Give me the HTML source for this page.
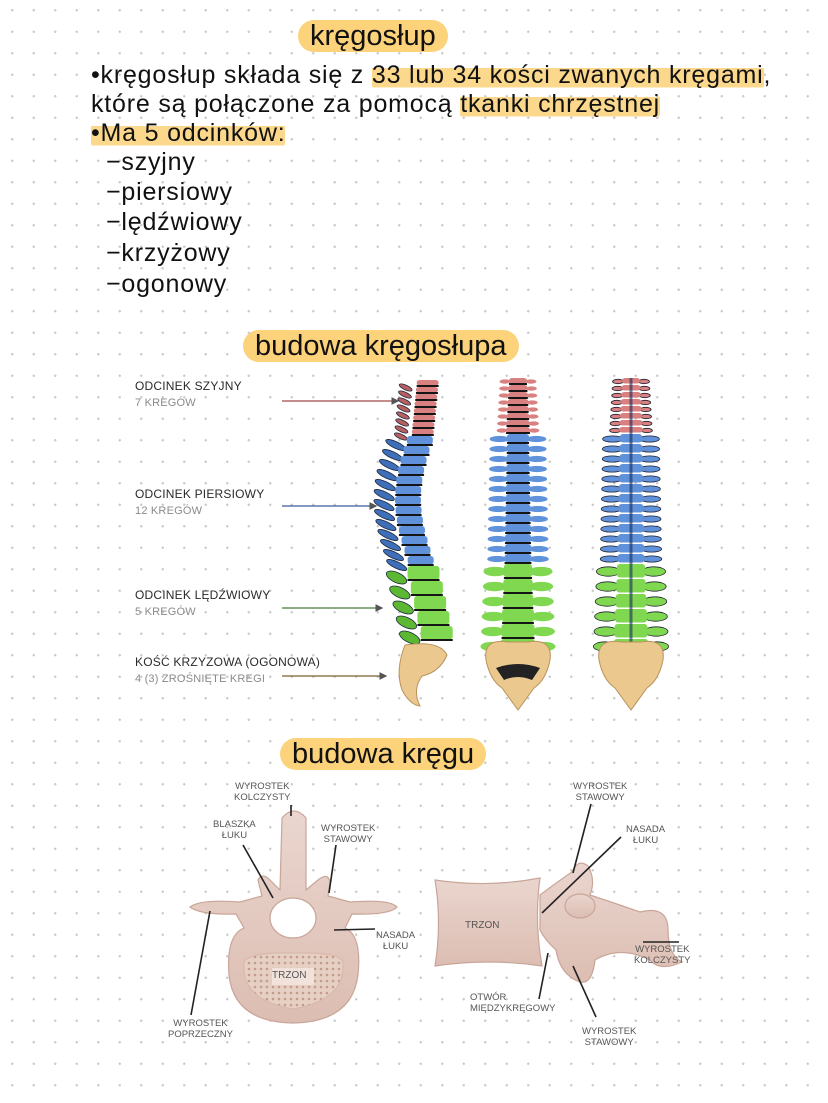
<!DOCTYPE html>
<html><head><meta charset="utf-8">
<style>
html,body{margin:0;padding:0}
body{width:828px;height:1103px;position:relative;overflow:hidden;background-color:#fff;
background-image:radial-gradient(circle,#c9c9c9 1px,transparent 1.4px);background-size:21.5px 21.5px;background-position:1.5px -0.5px;
font-family:"Liberation Sans","DejaVu Sans",sans-serif;color:#111}
.t{position:absolute;white-space:nowrap;font-size:25px;line-height:28px;letter-spacing:0.8px}
.h{background:linear-gradient(transparent 25%,#fbd88c 25%,#fbd88c 95%,transparent 95%);border-radius:4px}
.title{position:absolute;font-size:29px;line-height:32px;background:#fcd27a;border-radius:16px;padding:0 12px;white-space:nowrap}
.sl{position:absolute;font-size:12px;line-height:16px;color:#2a2a2a;white-space:nowrap;letter-spacing:.2px}
.sl span{color:#8a8a8a;font-size:11px}
.vl{position:absolute;font-size:9.5px;line-height:10.5px;color:#555;text-align:center;white-space:nowrap}
svg{position:absolute;left:0;top:0}
</style></head><body>

<div class="title" style="left:298px;top:20px">kręgosłup</div>
<div class="t" style="left:91px;top:61px">•kręgosłup składa się z <span class="h">33 lub 34 kości zwanych kręgami</span>,</div>
<div class="t" style="left:91px;top:90px">które są połączone za pomocą <span class="h">tkanki chrzęstnej</span></div>
<div class="t" style="left:91px;top:119px"><span class="h">•Ma 5 odcinków:</span></div>
<div class="t" style="left:106px;top:148px">−szyjny</div>
<div class="t" style="left:106px;top:178px">−piersiowy</div>
<div class="t" style="left:106px;top:208px">−lędźwiowy</div>
<div class="t" style="left:106px;top:239px">−krzyżowy</div>
<div class="t" style="left:106px;top:270px">−ogonowy</div>

<div class="title" style="left:243px;top:330px">budowa kręgosłupa</div>
<div class="title" style="left:280px;top:738px">budowa kręgu</div>

<div class="sl" style="left:135px;top:378px">ODCINEK SZYJNY<br><span>7 KREGÓW</span></div>
<div class="sl" style="left:135px;top:486px">ODCINEK PIERSIOWY<br><span>12 KREGÓW</span></div>
<div class="sl" style="left:135px;top:587px">ODCINEK LĘDŹWIOWY<br><span>5 KREGÓW</span></div>
<div class="sl" style="left:135px;top:654px">KOŚĆ KRZYZOWA (OGONOWA)<br><span>4 (3) ZROŚNIĘTE KREGI</span></div>

<svg width="828" height="1103" id="sv">
<defs>
<marker id="ar" markerWidth="6" markerHeight="6" refX="5" refY="3" orient="auto"><path d="M0,0 L6,3 L0,6z" fill="#555"/></marker>
<linearGradient id="bone" x1="0" y1="0" x2="0" y2="1"><stop offset="0" stop-color="#ead6cf"/><stop offset="1" stop-color="#dcbdb2"/></linearGradient>
<pattern id="dots" width="6" height="6" patternUnits="userSpaceOnUse"><rect width="6" height="6" fill="#e6cfc3"/><circle cx="3" cy="3" r="1.3" fill="#c49c8c"/></pattern>
</defs>
<g stroke-width="1.3" fill="none">
<line x1="282" y1="401" x2="398" y2="401" stroke="#a04848" marker-end="url(#ar)"/>
<line x1="282" y1="506" x2="376" y2="506" stroke="#3a5a9a" marker-end="url(#ar)"/>
<line x1="282" y1="608" x2="382" y2="608" stroke="#4a7a3a" marker-end="url(#ar)"/>
<line x1="282" y1="676" x2="386" y2="676" stroke="#7a6030" marker-end="url(#ar)"/>
</g>
<g id="spines"></g>

<g fill="url(#bone)" stroke="#c9a598" stroke-width="1.2">
<path d="M190,907 Q200,899 240,902 L262,896 L258,880 Q262,872 270,880 L280,890 L282,818 Q294,804 306,818 L306,890 L318,880 Q328,872 330,882 L328,896 L350,902 Q390,899 397,907 Q390,915 352,914 L345,928 Q362,935 358,975 Q352,1022 293,1023 Q234,1022 229,975 Q226,935 244,928 L236,914 Q200,915 190,907Z"/>
<ellipse cx="293" cy="918" rx="23" ry="20" fill="#fff"/>
<path d="M244,962 Q248,952 293,953 Q340,952 343,962 Q346,1000 293,1009 Q240,1000 244,962Z" fill="url(#dots)" stroke="#d8b8aa"/>
</g>
<rect x="272" y="968" width="42" height="17" fill="#f1e3dc"/>
<g fill="url(#bone)" stroke="#c9a598" stroke-width="1.2">
<path d="M540,895 Q560,880 572,872 Q578,858 588,866 Q596,880 590,895 Q620,905 640,912 Q668,905 668,930 Q668,955 682,962 Q660,972 650,960 Q620,945 595,960 Q592,985 580,982 Q560,975 556,950 Q545,940 540,930Z"/>
<ellipse cx="580" cy="906" rx="15" ry="12"/>
<path d="M435,880 Q488,888 540,878 Q534,920 542,966 Q488,958 435,966 Q442,922 435,880Z"/>
</g>

<g stroke="#222" stroke-width="1.6">
<line x1="291" y1="805" x2="291" y2="816"/>
<line x1="243" y1="845" x2="273" y2="898"/>
<line x1="336" y1="845" x2="329" y2="893"/>
<line x1="334" y1="930" x2="375" y2="929"/>
<line x1="210" y1="911" x2="191" y2="1015"/>
<line x1="591" y1="804" x2="573" y2="873"/>
<line x1="621" y1="837" x2="542" y2="913"/>
<line x1="643" y1="942" x2="679" y2="942"/>
<line x1="548" y1="953" x2="539" y2="999"/>
<line x1="573" y1="966" x2="596" y2="1017"/>
</g>
</svg>

<div class="vl" style="left:234px;top:782px">WYROSTEK<br>KOLCZYSTY</div>
<div class="vl" style="left:213px;top:820px">BLASZKA<br>ŁUKU</div>
<div class="vl" style="left:321px;top:824px">WYROSTEK<br>STAWOWY</div>
<div class="vl" style="left:376px;top:931px">NASADA<br>ŁUKU</div>
<div class="vl" style="left:168px;top:1019px">WYROSTEK<br>POPRZECZNY</div>
<div class="vl" style="left:272px;top:971px;font-size:10px">TRZON</div>
<div class="vl" style="left:465px;top:921px;font-size:10px">TRZON</div>
<div class="vl" style="left:573px;top:782px">WYROSTEK<br>STAWOWY</div>
<div class="vl" style="left:626px;top:825px">NASADA<br>ŁUKU</div>
<div class="vl" style="left:634px;top:945px">WYROSTEK<br>KOLCZYSTY</div>
<div class="vl" style="left:470px;top:993px;text-align:left">OTWÓR<br>MIĘDZYKRĘGOWY</div>
<div class="vl" style="left:582px;top:1027px">WYROSTEK<br>STAWOWY</div>

<script>
(function(){
var g=document.getElementById('spines'),NS='http://www.w3.org/2000/svg';
function el(t,a){var e=document.createElementNS(NS,t);for(var k in a)e.setAttribute(k,a[k]);g.appendChild(e);return e;}
function col(y){return y<432?'#d98080':y<562?'#5f92da':'#7fd84f';}
function dcol(y){return y<432?'#b85f5f':y<562?'#3f6fb8':'#5cb832';}
function sideX(y){
 if(y<432) return 425-(y-380)*0.1;
 if(y<562){var t=(y-432)/130;return 420-Math.sin(t*Math.PI)*14-t*2;}
 return 418+(y-562)*0.22;
}
var y=380;
while(y<640){
 var h=y<432?7:(y<562?10:15);var w=y<432?22:(y<562?26:32);
 var cx=sideX(y+h/2);
 var px=cx-w/2-8,py=y+h/2+4;
 el('ellipse',{cx:px,cy:py,rx:y<432?7:11,ry:h/3,fill:dcol(y),stroke:'#1e2a40','stroke-width':.8,transform:'rotate(25 '+px+' '+py+')'});
 el('rect',{x:cx-w/2+3,y:y,width:w,height:h-1.5,rx:3,fill:col(y)});
 el('line',{x1:cx-w/2+3,y1:y+h-1,x2:cx+w/2+3,y2:y+h-1,stroke:'#151515','stroke-width':2});
 y+=h;
}
el('path',{d:'M405,645 Q440,640 447,655 Q440,672 422,676 Q412,690 420,706 Q410,705 402,690 Q395,670 405,645Z',fill:'#ebc88e',stroke:'#b8945c'});
function front(cx,back){
 var y=378;
 while(y<640){
  var h=y<432?7:(y<562?10:15);var w=y<432?(18+(y-378)*0.12):(y<562?22+(y-432)*0.04:28+(y-562)*0.08);
  var c=col(y);var pw=y<432?12:(y<562?22:26);
  el('ellipse',{cx:cx-w/2-pw/3,cy:y+h/2,rx:pw/2.2,ry:h/3.2,fill:c,stroke:back?'#223':'none','stroke-width':.8});
  el('ellipse',{cx:cx+w/2+pw/3,cy:y+h/2,rx:pw/2.2,ry:h/3.2,fill:c,stroke:back?'#223':'none','stroke-width':.8});
  el('rect',{x:cx-w/2,y:y,width:w,height:h-1.5,rx:3,fill:c});
  if(back){el('line',{x1:cx,y1:y,x2:cx,y2:y+h,stroke:'#1a2a5a','stroke-width':3,opacity:.6});}
  else el('line',{x1:cx-w/2,y1:y+h-1,x2:cx+w/2,y2:y+h-1,stroke:'#151515','stroke-width':2});
  y+=h;
 }
 el('path',{d:'M'+(cx-10)+',642 Q'+(cx-35)+',638 '+(cx-32)+',660 Q'+(cx-28)+',680 '+(cx-16)+',688 L'+cx+',710 L'+(cx+16)+',688 Q'+(cx+28)+',680 '+(cx+32)+',660 Q'+(cx+35)+',638 '+(cx+10)+',642Z',fill:'#ebc88e',stroke:'#b8945c'});
 if(!back){el('path',{d:'M'+(cx-22)+',668 Q'+cx+',660 '+(cx+22)+',668 L'+(cx+14)+',680 Q'+cx+',674 '+(cx-14)+',680Z',fill:'#222'});}
}
front(518,false);front(631,true);
})();
</script>
</body></html>
